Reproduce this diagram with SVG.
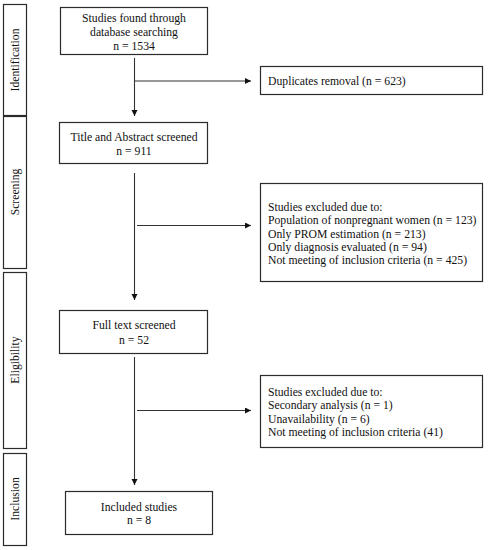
<svg xmlns="http://www.w3.org/2000/svg" width="490" height="550" viewBox="0 0 490 550">
<style>
.b{fill:#fff;stroke:#2b2b2b;stroke-width:1.2}
.t{font-family:"Liberation Serif",serif;font-size:11.7px;fill:#111}
.c{text-anchor:middle}
.l{fill:none;stroke:#333;stroke-width:1.1}
</style>
<defs>
<marker id="ah" markerWidth="8" markerHeight="8" refX="6" refY="3" orient="auto" markerUnits="userSpaceOnUse">
<path d="M0,0 L6,3 L0,6 Z" fill="#111"/>
</marker>
</defs>
<rect width="490" height="550" fill="#fff"/>
<g id="phase-identification"><rect class="b" x="3.5" y="4.5" width="23" height="111"/><text class="t c" transform="translate(19,60) rotate(-90)">Identification</text></g>
<g id="phase-screening"><rect class="b" x="3.5" y="116.5" width="23" height="152"/><text class="t c" transform="translate(19,192) rotate(-90)">Screening</text></g>
<g id="phase-eligibility"><rect class="b" x="3.5" y="272.5" width="23" height="176"/><text class="t c" transform="translate(19,360) rotate(-90)">Eligibility</text></g>
<g id="phase-inclusion"><rect class="b" x="3.5" y="453.5" width="23" height="92"/><text class="t c" transform="translate(19,499) rotate(-90)">Inclusion</text></g>
<g id="connectors">
<line class="l" x1="134.5" y1="58" x2="134.5" y2="116" marker-end="url(#ah)"/>
<line class="l" x1="134.5" y1="81" x2="251" y2="81" marker-end="url(#ah)"/>
<line class="l" x1="134.5" y1="173" x2="134.5" y2="300" marker-end="url(#ah)"/>
<line class="l" x1="137" y1="225.5" x2="251" y2="225.5" marker-end="url(#ah)"/>
<line class="l" x1="134.5" y1="357" x2="134.5" y2="485" marker-end="url(#ah)"/>
<line class="l" x1="137" y1="410.5" x2="251" y2="410.5" marker-end="url(#ah)"/>
</g>
<g id="node-found"><rect class="b" x="60.5" y="7.5" width="147" height="47"/>
<text class="t c" x="134" y="22">Studies found through</text>
<text class="t c" x="134" y="36">database searching</text>
<text class="t c" x="134" y="50">n = 1534</text></g>
<g id="node-duplicates"><rect class="b" x="260.5" y="66.5" width="222" height="28"/>
<text class="t" x="268" y="84.5">Duplicates removal (n = 623)</text></g>
<g id="node-title"><rect class="b" x="59.5" y="122.5" width="148" height="41"/>
<text class="t c" x="134" y="141">Title and Abstract screened</text>
<text class="t c" x="134" y="155">n = 911</text></g>
<g id="node-excluded1"><rect class="b" x="260.5" y="183.5" width="222" height="98"/>
<text class="t" x="268" y="211">Studies excluded due to:</text>
<text class="t" x="268" y="224.3">Population of nonpregnant women (n = 123)</text>
<text class="t" x="268" y="237.6">Only PROM estimation (n = 213)</text>
<text class="t" x="268" y="250.9">Only diagnosis evaluated (n = 94)</text>
<text class="t" x="268" y="264.2">Not meeting of inclusion criteria (n = 425)</text></g>
<g id="node-fulltext"><rect class="b" x="59.5" y="310.5" width="148" height="43"/>
<text class="t c" x="134" y="329">Full text screened</text>
<text class="t c" x="134" y="344">n = 52</text></g>
<g id="node-excluded2"><rect class="b" x="260.5" y="375.5" width="222" height="72"/>
<text class="t" x="268" y="396">Studies excluded due to:</text>
<text class="t" x="268" y="409.3">Secondary analysis (n = 1)</text>
<text class="t" x="268" y="422.6">Unavailability (n = 6)</text>
<text class="t" x="268" y="435.9">Not meeting of inclusion criteria (41)</text></g>
<g id="node-included"><rect class="b" x="65.5" y="491.5" width="147" height="43"/>
<text class="t c" x="139" y="511">Included studies</text>
<text class="t c" x="139" y="524">n = 8</text></g>
</svg>
